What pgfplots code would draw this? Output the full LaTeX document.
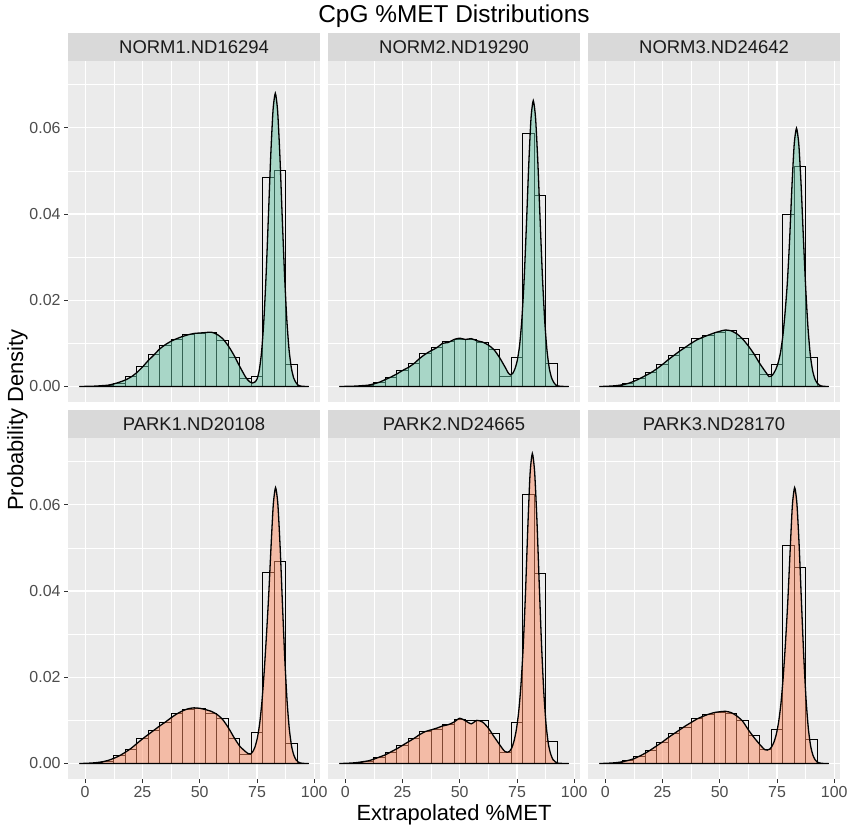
\documentclass[border=0pt]{standalone}
\usepackage{pgfplots}
\pgfplotsset{compat=1.18}
\usepackage{fontspec}
\setmainfont{Liberation Sans}
\definecolor{ggbg}{HTML}{EBEBEB}
\definecolor{stripbg}{HTML}{D9D9D9}
\definecolor{gtick}{HTML}{333333}
\definecolor{glabel}{HTML}{4D4D4D}
\definecolor{gstrip}{HTML}{1A1A1A}
\definecolor{normc}{HTML}{66C2A5}
\definecolor{parkc}{HTML}{FC8D62}
\pgfplotsset{
 panel/.style={
  scale only axis, width=252bp, height=341bp, anchor=south west,
  xmin=-7.5, xmax=102.5, ymin=-0.0036, ymax=0.0755,
  xtick={0,25,50,75,100}, ytick={0,0.02,0.04,0.06},
  minor xtick={12.5,37.5,62.5,87.5}, minor ytick={0.01,0.03,0.05,0.07},
  xticklabels={0,25,50,75,100}, yticklabels={0.00,0.02,0.04,0.06},
  grid=both,
  major grid style={white, line width=1.1bp},
  minor grid style={white, line width=0.55bp},
  axis background/.style={fill=ggbg},
  axis line style={draw=none},
  tick align=outside, tick pos=left,
  major tick length=4bp, minor tick length=0pt,
  tick style={draw=gtick, line width=1bp},
  /pgf/number format/assume math mode=true,
  ticklabel style={font=\fontsize{16}{18}\selectfont, text=glabel},
 },
 hist/.style={ybar, bar width=5, bar shift=0pt, draw=black, fill=none, line width=0.9bp},
 dens/.style={draw=black, fill=#1, fill opacity=0.5, line width=1.3bp, smooth, tension=0.4},
}
\begin{document}
\begin{tikzpicture}
\path[fill=white] (0,0) rectangle (851bp,828bp);

% ---------- NORM1 ----------
\begin{axis}[panel, at={(68bp,426bp)}, xmajorticks=false]
\addplot[hist] coordinates {(0,0)(5,0.00005)(10,0.0002)(15,0.0008)(20,0.0023)(25,0.0047)(30,0.0074)(35,0.0095)(40,0.0109)(45,0.0121)(50,0.0123)(55,0.0126)(60,0.0107)(65,0.0067)(70,0.0018)(75,0.0024)(80,0.0484)(85,0.0501)(90,0.0051)(95,0.0001)};
\addplot[dens=normc] coordinates {(-2.5,0)(0,0.00002)(2.5,0.00005)(5,0.0001)(7.5,0.0002)(10,0.0003)(12.5,0.0006)(15,0.0010)(17.5,0.0015)(20,0.0022)(22.5,0.0032)(25,0.0045)(27.5,0.0060)(30,0.0073)(32.5,0.0087)(35,0.0097)(37.5,0.0105)(40,0.0111)(42.5,0.0116)(45,0.0120)(47.5,0.0123)(50,0.0124)(52.5,0.0125)(55,0.0126)(57.5,0.0121)(60,0.0111)(62.5,0.0094)(65,0.0072)(67.5,0.0046)(70,0.0022)(71,0.0015)(72,0.0010)(73,0.0008)(74,0.0010)(75,0.0017)(76,0.0038)(77,0.0080)(78,0.0154)(79,0.0262)(80,0.0398)(81,0.0536)(82,0.0641)(83,0.0680)(84,0.0639)(85,0.0534)(86,0.0394)(87,0.0262)(88,0.0156)(89,0.0085)(90,0.0043)(91,0.0020)(92,0.0009)(93,0.0003)(94,0.0001)(95,0.00003)(97.5,0)} \closedcycle;
\end{axis}

% ---------- NORM2 ----------
\begin{axis}[panel, at={(328bp,426bp)}, xmajorticks=false, ymajorticks=false]
\addplot[hist] coordinates {(0,0)(5,0.0001)(10,0.0002)(15,0.0010)(20,0.0022)(25,0.0037)(30,0.0054)(35,0.0076)(40,0.0091)(45,0.0105)(50,0.0109)(55,0.0110)(60,0.0103)(65,0.0085)(70,0.0023)(75,0.0068)(80,0.0587)(85,0.0442)(90,0.0053)(95,0.0001)};
\addplot[dens=normc] coordinates {(-2.5,0)(0,0.00002)(2.5,0.00005)(5,0.0001)(7.5,0.0002)(10,0.0003)(12.5,0.0006)(15,0.0010)(17.5,0.0016)(20,0.0022)(22.5,0.0029)(25,0.0037)(27.5,0.0044)(30,0.0053)(32.5,0.0065)(35,0.0075)(37.5,0.0083)(40,0.0090)(42.5,0.0100)(45,0.0102)(47.5,0.0109)(50,0.0112)(52.5,0.0109)(55,0.0111)(57.5,0.0106)(60,0.0103)(62.5,0.0096)(65,0.0085)(67.5,0.0066)(70.1,0.0042)(71.1,0.0032)(72.1,0.0027)(73.1,0.0030)(74.1,0.0041)(75.1,0.0060)(76.1,0.0094)(77.1,0.0154)(78.1,0.0247)(79.1,0.0373)(80.1,0.0511)(81.1,0.0621)(82.1,0.0663)(83.1,0.0623)(84.1,0.0520)(85.1,0.0385)(86.1,0.0255)(87.1,0.0152)(88.1,0.0083)(89.1,0.0042)(90.1,0.0020)(91.1,0.0009)(92.1,0.0003)(93.1,0.0001)(95,0.00002)(97.5,0)} \closedcycle;
\end{axis}

% ---------- NORM3 ----------
\begin{axis}[panel, at={(588bp,426bp)}, xmajorticks=false, ymajorticks=false]
\addplot[hist] coordinates {(0,0)(5,0.0001)(10,0.0008)(15,0.0018)(20,0.0032)(25,0.0051)(30,0.0072)(35,0.0090)(40,0.0112)(45,0.0119)(50,0.0126)(55,0.0129)(60,0.0112)(65,0.0074)(70,0.0029)(75,0.0051)(80,0.0398)(85,0.0510)(90,0.0067)(95,0.0001)};
\addplot[dens=normc] coordinates {(-2.5,0)(0,0.00003)(2.5,0.0001)(5,0.0002)(7.5,0.0004)(10,0.0007)(12.5,0.0012)(15,0.0018)(17.5,0.0025)(20,0.0032)(22.5,0.0041)(25,0.0051)(27.5,0.0062)(30,0.0072)(32.5,0.0082)(35,0.0091)(37.5,0.0100)(40,0.0108)(42.5,0.0114)(45,0.0119)(47.5,0.0124)(50,0.0128)(52.5,0.0131)(55,0.0129)(57.5,0.0122)(60,0.0110)(62.5,0.0094)(65,0.0075)(67.5,0.0053)(70.5,0.0030)(71.5,0.0023)(72.5,0.0024)(73.5,0.0030)(74.5,0.0040)(75.5,0.0055)(76.5,0.0078)(77.5,0.0115)(78.5,0.0170)(79.5,0.0240)(80.5,0.0340)(81.5,0.0462)(82.5,0.0561)(83.5,0.0599)(84.5,0.0563)(85.5,0.0470)(86.5,0.0347)(87.5,0.0231)(88.5,0.0138)(89.5,0.0075)(90.5,0.0038)(91.5,0.0018)(92.5,0.0008)(93.5,0.0003)(94.5,0.0001)(96,0.00002)(97.5,0)} \closedcycle;
\end{axis}

% ---------- PARK1 ----------
\begin{axis}[panel, at={(68bp,49bp)}]
\addplot[hist] coordinates {(0,0)(5,0.0001)(10,0.0005)(15,0.0018)(20,0.0033)(25,0.0058)(30,0.0076)(35,0.0095)(40,0.0116)(45,0.0126)(50,0.0128)(55,0.0116)(60,0.0105)(65,0.0057)(70,0.0022)(75,0.0072)(80,0.0444)(85,0.0469)(90,0.0047)(95,0.0001)};
\addplot[dens=parkc] coordinates {(-2.5,0)(0,0.00003)(2.5,0.0001)(5,0.0002)(7.5,0.0004)(10,0.0007)(12.5,0.0012)(15,0.0018)(17.5,0.0026)(20,0.0035)(22.5,0.0046)(25,0.0057)(27.5,0.0067)(30,0.0077)(32.5,0.0087)(35,0.0096)(37.5,0.0106)(40,0.0115)(42.5,0.0122)(45,0.0127)(47.5,0.0129)(50,0.0128)(52.5,0.0125)(55,0.0121)(57.5,0.0114)(60,0.0102)(62.5,0.0083)(65,0.0060)(67.5,0.0040)(70.1,0.0027)(71.1,0.0023)(72.1,0.0022)(73.1,0.0027)(74.1,0.0038)(75.1,0.0058)(76.1,0.0090)(77.1,0.0140)(78.1,0.0210)(79.1,0.0295)(80.1,0.0390)(81.1,0.0500)(82.1,0.0600)(83.1,0.0640)(84.1,0.0602)(85.1,0.0502)(86.1,0.0371)(87.1,0.0246)(88.1,0.0147)(89.1,0.0080)(90.1,0.0040)(91.1,0.0019)(92.1,0.0008)(93.1,0.0003)(94.1,0.0001)(95.5,0.00002)(97.5,0)} \closedcycle;
\end{axis}

% ---------- PARK2 ----------
\begin{axis}[panel, at={(328bp,49bp)}, ymajorticks=false]
\addplot[hist] coordinates {(0,0)(5,0.0001)(10,0.0005)(15,0.0014)(20,0.0026)(25,0.0041)(30,0.0058)(35,0.0074)(40,0.0080)(45,0.0090)(50,0.0103)(55,0.0099)(60,0.0099)(65,0.0070)(70,0.0026)(75,0.0095)(80,0.0624)(85,0.0440)(90,0.0050)(95,0.0001)};
\addplot[dens=parkc] coordinates {(-2.5,0)(0,0.00003)(2.5,0.0001)(5,0.0002)(7.5,0.0004)(10,0.0006)(12.5,0.0010)(15,0.0015)(17.5,0.0020)(20,0.0027)(22.5,0.0034)(25,0.0042)(27.5,0.0050)(30,0.0058)(32.5,0.0067)(35,0.0074)(37.5,0.0078)(40,0.0082)(42.5,0.0087)(45,0.0090)(47.5,0.0096)(50,0.0105)(52.5,0.0099)(55,0.0092)(57.5,0.0100)(60,0.0096)(62.5,0.0082)(65,0.0062)(67.5,0.0043)(68.7,0.0034)(69.7,0.0028)(70.7,0.0026)(71.7,0.0028)(72.7,0.0036)(73.7,0.0052)(74.7,0.0078)(75.7,0.0118)(76.7,0.0180)(77.7,0.0270)(78.7,0.0395)(79.7,0.0545)(80.7,0.0672)(81.7,0.0719)(82.7,0.0676)(83.7,0.0564)(84.7,0.0417)(85.7,0.0277)(86.7,0.0165)(87.7,0.0090)(88.7,0.0045)(89.7,0.0022)(90.7,0.0009)(91.7,0.0004)(92.7,0.0001)(94.5,0.00002)(97.5,0)} \closedcycle;
\end{axis}

% ---------- PARK3 ----------
\begin{axis}[panel, at={(588bp,49bp)}, ymajorticks=false]
\addplot[hist] coordinates {(0,0)(5,0.0001)(10,0.0006)(15,0.0016)(20,0.0030)(25,0.0049)(30,0.0070)(35,0.0084)(40,0.0105)(45,0.0113)(50,0.0119)(55,0.0117)(60,0.0099)(65,0.0066)(70,0.0033)(75,0.0078)(80,0.0506)(85,0.0454)(90,0.0055)(95,0.0001)};
\addplot[dens=parkc] coordinates {(-2.5,0)(0,0.00003)(2.5,0.0001)(5,0.0002)(7.5,0.0004)(10,0.0007)(12.5,0.0011)(15,0.0017)(17.5,0.0024)(20,0.0032)(22.5,0.0041)(25,0.0050)(27.5,0.0060)(30,0.0069)(32.5,0.0078)(35,0.0087)(37.5,0.0095)(40,0.0103)(42.5,0.0109)(45,0.0114)(47.5,0.0118)(50,0.0120)(52.5,0.0121)(55,0.0118)(57.5,0.0110)(60,0.0098)(62.5,0.0078)(65,0.0060)(67.5,0.0044)(68.7,0.0037)(69.7,0.0032)(70.7,0.0031)(71.7,0.0033)(72.7,0.0039)(73.7,0.0050)(74.7,0.0068)(75.7,0.0096)(76.7,0.0138)(77.7,0.0200)(78.7,0.0280)(79.7,0.0375)(80.7,0.0490)(81.7,0.0598)(82.7,0.0640)(83.7,0.0602)(84.7,0.0502)(85.7,0.0371)(86.7,0.0246)(87.7,0.0147)(88.7,0.0080)(89.7,0.0040)(90.7,0.0019)(91.7,0.0008)(92.7,0.0003)(93.7,0.0001)(95,0.00002)(97.5,0)} \closedcycle;
\end{axis}

% ---------- strips ----------
\fill[stripbg] (68bp,767bp) rectangle (320bp,795bp);
\fill[stripbg] (328bp,767bp) rectangle (580bp,795bp);
\fill[stripbg] (588bp,767bp) rectangle (840bp,795bp);
\fill[stripbg] (68bp,390bp) rectangle (320bp,418bp);
\fill[stripbg] (328bp,390bp) rectangle (580bp,418bp);
\fill[stripbg] (588bp,390bp) rectangle (840bp,418bp);
\begin{scope}[every node/.style={font=\fontsize{18.5}{20}\selectfont, text=gstrip, inner sep=0pt}]
\node at (194bp,781bp) {NORM1.ND16294};
\node at (454bp,781bp) {NORM2.ND19290};
\node at (714bp,781bp) {NORM3.ND24642};
\node at (194bp,404bp) {PARK1.ND20108};
\node at (454bp,404bp) {PARK2.ND24665};
\node at (714bp,404bp) {PARK3.ND28170};
\end{scope}

% ---------- titles ----------
\node[anchor=base, inner sep=0pt, font=\fontsize{24.5}{28}\selectfont] at (454bp,805bp) {CpG \%MET Distributions};
\node[anchor=base, inner sep=0pt, font=\fontsize{22}{26}\selectfont] at (454bp,8bp) {Extrapolated \%MET};
\node[anchor=base, rotate=90, inner sep=0pt, font=\fontsize{22}{26}\selectfont] at (23bp,408bp) {Probability Density};
\end{tikzpicture}
\end{document}
